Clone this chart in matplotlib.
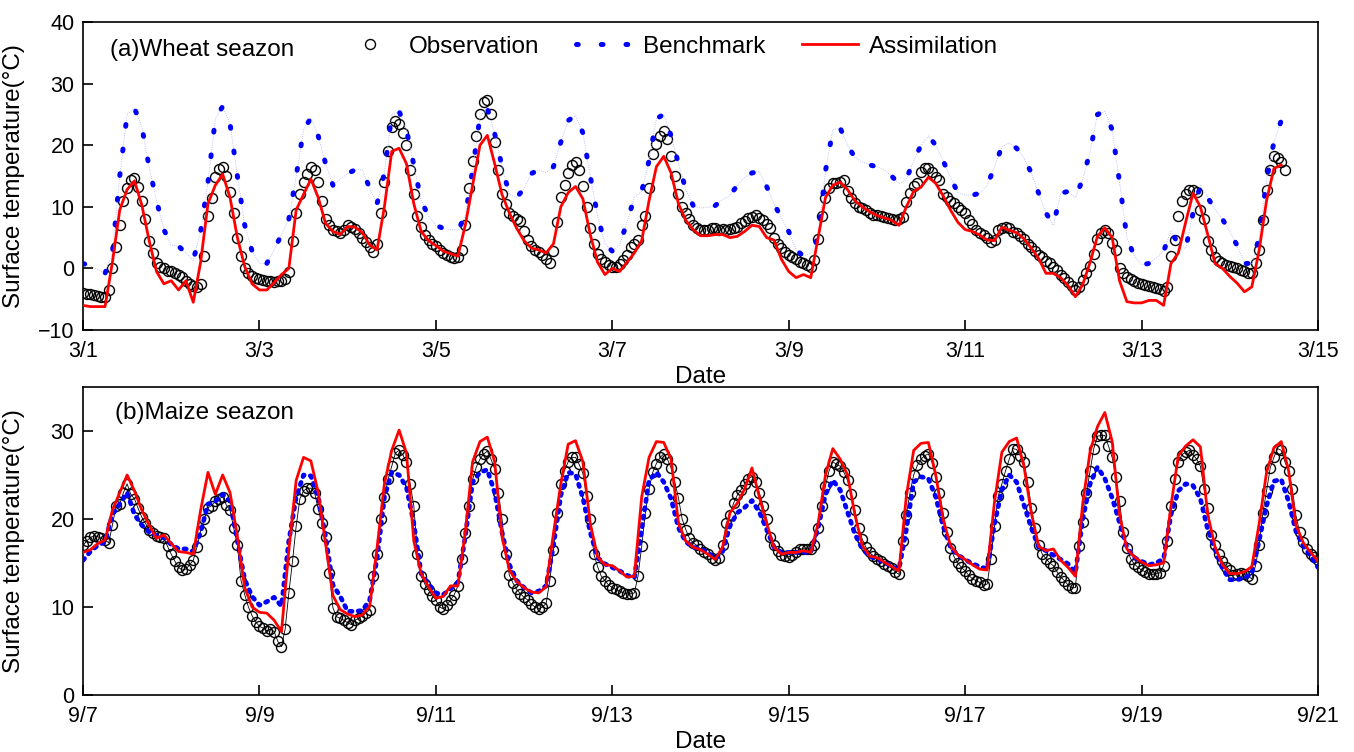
import numpy as np
import matplotlib
matplotlib.use("Agg")
import matplotlib.pyplot as plt
from matplotlib.lines import Line2D

plt.rcParams['font.family'] = ['Liberation Sans', 'DejaVu Sans']

# ---------------- data ----------------
OBS_STEP_H = 1      # observations: hourly samples
MODEL_STEP_H = 2    # model series: 2-hourly samples

wheat_ticklabels = ["3/1", "3/3", "3/5", "3/7", "3/9", "3/11", "3/13", "3/15"]
maize_ticklabels = ["9/7", "9/9", "9/11", "9/13", "9/15", "9/17", "9/19", "9/21"]

wheat_obs = [
    -4, -4.1, -4.2, -4.3, -4.5, -4.6, -4.7, -3.5, 0, 3.5, 7, 11, 13, 14.3, 14.6, 13.2, 11, 8, 4.5, 2.5, 0.8, 0.2, 0, -0.4,
    -0.5, -0.7, -1, -1.4, -2, -2.5, -2.8, -3, -2.5, 2, 8.5, 11.5, 14.8, 16.2, 16.4, 15, 12.4, 9, 5, 2, 0, -0.7, -1.2, -1.6,
    -1.8, -1.9, -2, -2.1, -2.2, -2.1, -2, -1.8, -0.6, 4.5, 9, 12, 14, 15.3, 16.5, 16, 14, 11, 8, 7, 6.3, 6, 5.7, 6.2,
    7, 6.7, 6.4, 5.8, 5, 4.3, 3.4, 2.6, 4, 9, 14, 19, 23, 24, 23.5, 22, 20, 16, 12, 8.5, 6.8, 5.5, 4.6, 4,
    3.7, 3, 2.5, 2.2, 1.9, 1.7, 1.8, 3, 7, 13, 17.5, 21.5, 25, 27, 27.3, 25, 20.5, 16, 12, 10.5, 9, 8.5, 8, 7.7,
    6, 4.6, 3.7, 3, 2.6, 2.2, 1.6, 0.9, 2.8, 7.5, 11.6, 13.5, 15.5, 16.8, 17.3, 16, 13.4, 10, 6.5, 4, 2.4, 1.5, 1.1, 0.5,
    0.3, 0.3, 0.7, 1.4, 2.1, 3.5, 4, 4.6, 7, 8.5, 13, 18.6, 20.2, 21.5, 22.3, 21, 18.2, 15, 12, 10, 9, 8, 7, 6.5,
    6.2, 6.3, 6.2, 6.5, 6.5, 6.3, 6.4, 6.2, 6.4, 6.6, 6.8, 7.3, 7.7, 8.2, 8.3, 8.6, 8.2, 7.8, 7.2, 6.5, 5, 4, 3.3, 2.7,
    2.2, 1.9, 1.5, 1, 0.8, 0.5, 0.3, 1.4, 4.8, 8.5, 11.5, 13, 13.8, 13.8, 14, 14.3, 12.6, 11.5, 10.6, 10, 9.8, 9.4, 9, 8.7,
    8.6, 8.5, 8.4, 8.2, 8, 7.8, 8, 8.4, 10.8, 12.2, 13.3, 13.8, 15.7, 16.3, 16.3, 15.7, 14.9, 14.3, 12, 11.6, 11, 10.6, 10, 9.5,
    9, 7.8, 7.2, 6.2, 5.8, 5.5, 5, 4.3, 4.6, 6.2, 6.5, 6.8, 6.6, 5.9, 5.8, 5.3, 4.8, 4, 3.5, 2.9, 2.2, 1.8, 1.2, 0.8,
    0.2, -0.3, -1.1, -1.5, -2.2, -2.8, -3.5, -3, -1.9, -0.8, 0.4, 2.4, 4.7, 5.7, 6.2, 5.7, 4.2, 3, 0, -0.8, -1.4, -1.8, -2.1, -2.3,
    -2.5, -2.7, -2.8, -3, -3.2, -3.4, -3.7, -3, 2, 4.6, 8.5, 11, 12, 12.7, 12.7, 12.4, 9.5, 8, 4.5, 3, 1.9, 1.2, 0.8, 0.5,
    0.4, 0.3, 0, -0.3, -0.5, -0.7, -0.8, 0.8, 3, 7.8, 12.7, 16, 18.2, 18, 17.3, 16,
]

wheat_bench = [
    0.8, 0.4, -0.2, -0.8, 2.5, 15, 25, 26, 23, 16.4, 11, 6.3,
    3.8, 3.6, 2.5, 1.3, 6, 14, 24.3, 26.3, 23.5, 15, 7, 2.8,
    0.8, 0.8, 3, 5.5, 8, 15, 22.5, 24.4, 21.5, 17, 13.5, 14.5,
    15.4, 16, 16, 13, 10.5, 15.5, 25, 25.5, 22.5, 16.8, 11, 8.5,
    7, 6.5, 6.3, 6.2, 8.5, 16, 24.6, 26, 21.9, 16.5, 12, 11.5,
    13, 15.4, 16, 15.5, 16.5, 20.5, 24, 24.8, 22, 15, 8.5, 4,
    2.8, 3.8, 7.5, 11.5, 12.5, 17.5, 24.3, 25, 21.5, 17, 12.8, 10.2,
    9.8, 9.9, 10.2, 11.2, 11.8, 13.5, 14.8, 15.5, 15.7, 13.3, 10.5, 8.2,
    6, 3, 2, 2.5, 5, 15.8, 22.5, 22.8, 20, 18, 17.3, 16.8,
    16.5, 16, 15, 13.7, 14.5, 17.5, 20, 21.5, 20, 17.5, 14.8, 12.3,
    11.9, 11.9, 12.2, 13.5, 16.5, 19.8, 20.4, 19.5, 18, 15.5, 12.2, 9,
    7, 12.2, 12.5, 11.5, 14.5, 19, 25, 25.5, 22.5, 14, 5, 2,
    0.6, 0.8, 1.7, 2.8, 6, 4, 3.2, 9, 13.5, 11.5, 9.5, 8,
    6, 3.7, 0.8, 0.8, 5, 14.3, 20.5, 24,
]

wheat_assim = [
    -6, -6.2, -6.2, -6.2, 1, 9.5, 12.8, 14.2, 10.3, 4.5, -0.5, -2.5,
    -2, -3.5, -2, -5.5, 1, 10.5, 13.5, 15.3, 11.5, 5, 0.3, -2.5,
    -3.5, -3.5, -2.3, -1, 0, 9.5, 12, 14.5, 11.5, 7.3, 6, 5.5,
    6.8, 6.7, 5.8, 3.8, 3, 10, 19, 19.5, 17, 10.5, 6, 4.5,
    3.7, 2.8, 2.4, 2, 7, 13.5, 20, 21.6, 17, 12, 9, 6.5,
    4.5, 3.3, 3, 2.5, 4, 10, 12.3, 13.3, 11.3, 5.5, 1, -1,
    0, -0.5, 1, 2.5, 4.5, 11, 16.5, 18.2, 15.5, 10.5, 7.8, 6.3,
    5.3, 5.3, 5.5, 5.5, 5, 5.2, 6, 7, 6.8, 5, 4.6, 1.5,
    -0.5, -1.5, -1, -1.5, 5, 11.5, 13.5, 14, 12.8, 11, 10, 9.2,
    8.6, 8.2, 7.8, 7, 10, 12.5, 13.2, 14.8, 13.8, 11.8, 9.5, 7.5,
    6.3, 6, 5.4, 4.6, 4.5, 6.7, 6.2, 5.8, 4.8, 3.3, 1.6, -0.8,
    -0.8, -1.5, -2.8, -4.6, -2.6, 1, 5.2, 6.6, 5, -2, -5.4, -5.6,
    -5.6, -5.2, -5.2, -6, 0.8, 2.5, 7.5, 12.2, 10, 5.5, 0.8, 0,
    -1.3, -2.4, -3.8, -3, 3, 11, 16.2, 16.8,
]

maize_obs = [
    17, 17.5, 17.9, 18.1, 18, 17.8, 17.6, 17.3, 19.3, 21.5, 21.7, 23, 24, 22.8, 22.3, 21.2, 20.2, 19.5, 18.8, 18.4, 18.1, 18, 17.8, 16.9,
    16, 15.2, 14.5, 14.2, 14.3, 14.8, 15.3, 16.8, 18.6, 20, 21.3, 21.5, 22, 22.3, 22.5, 21.6, 21, 19, 17, 13, 11.4, 10, 9, 8.3,
    7.8, 7.6, 7.3, 7.5, 7.2, 6.1, 5.5, 7.5, 11.6, 15.2, 19.2, 22.3, 23.2, 23.5, 23.5, 23, 21.1, 19.6, 18, 13.9, 9.9, 8.9, 8.7, 8.5,
    8.2, 8, 8.5, 8.7, 9, 9.3, 9.7, 13.5, 16, 20, 22.5, 24.5, 26, 27.5, 27.8, 27.3, 26.5, 24, 21.5, 16, 13.5, 12.6, 11.9, 11.3,
    10.8, 10, 9.8, 10.2, 10.8, 11.4, 12.4, 15.4, 18.4, 21.5, 24.5, 25.9, 26.8, 27.4, 27.7, 26.8, 25.7, 23, 20, 16, 13.6, 12.7, 12, 11.5,
    11.1, 10.8, 10.3, 10, 9.8, 10, 10.4, 13, 16.5, 20.7, 24, 25.5, 26.5, 27, 27, 26.2, 25.2, 22.6, 20, 16, 14.6, 13.5, 13, 12.5,
    12.2, 12, 11.8, 11.6, 11.5, 11.5, 11.6, 13.5, 16.9, 20.7, 23.4, 25.3, 26.3, 27, 27.4, 26.8, 25.8, 24.2, 22.4, 20, 18.8, 17.8, 17.3, 17,
    16.6, 16.3, 16, 15.6, 15.3, 15.6, 17, 19.5, 20.5, 21.8, 22.7, 23.3, 24, 24.6, 24.8, 24.2, 23, 21.5, 20, 18, 17.1, 16.4, 15.9, 15.8,
    15.7, 15.9, 16.2, 16.6, 16.6, 16.6, 16.6, 17, 19, 21.5, 23.8, 25.5, 26.5, 26.2, 26, 25.3, 24.4, 22.8, 21, 19, 17.7, 16.8, 16.2, 15.8,
    15.4, 15.2, 14.9, 14.7, 14.4, 14, 13.7, 17.5, 20.5, 23, 25, 26.1, 26.8, 27.2, 27.4, 26.4, 24.8, 23, 20.7, 18.5, 16.7, 15.7, 15, 14.5,
    14.1, 13.6, 13.2, 13, 12.8, 12.5, 12.6, 15.5, 19.2, 22.6, 24, 25.5, 26.8, 28, 27.9, 27.2, 26.5, 24.2, 21.3, 19, 17, 16, 15.5, 15,
    14.7, 14, 13.4, 13, 12.5, 12.2, 12.2, 16.9, 19.7, 23, 25.5, 28, 29.4, 29.5, 29.5, 28.3, 27, 24.8, 22, 18.5, 16.7, 15.5, 14.9, 14.5,
    14.2, 14, 13.8, 13.7, 13.8, 13.9, 14.7, 17.5, 21.5, 24.5, 26.5, 27.3, 27.6, 27.8, 27.3, 26.8, 26, 23.4, 21.3, 18.2, 17, 16, 15.2, 14.6,
    14.2, 13.6, 13.7, 13.9, 13.7, 13.5, 13.2, 14.7, 17, 20.7, 23.2, 25.8, 27, 28, 27.8, 26.5, 25.5, 23.4, 20.4, 18.5, 17.4, 16.6, 16, 15.7,
    15.3,
]

maize_bench = [
    15.3, 16.3, 17, 17.4, 20.5, 21.7, 23, 20.5, 19.3, 18.5, 18.1, 17.9,
    17.1, 16.6, 16.6, 16.3, 18.5, 21.7, 22, 22.8, 22, 17.5, 13.1, 11.2,
    10.2, 10.6, 11.1, 10.1, 17.5, 22.5, 25, 24.9, 22.5, 18, 12.5, 11.2,
    9.5, 9.5, 9.6, 10.8, 15.5, 22.5, 25.3, 25, 23.6, 19.5, 13.8, 12.6,
    11.6, 11.4, 12.1, 12.8, 18, 24.2, 25.3, 25.6, 23, 18.5, 14.8, 13,
    12.2, 11.6, 11.8, 12.4, 17, 22.7, 25.3, 25.1, 22.4, 18.5, 15.6, 14.9,
    14.5, 14.1, 13.6, 13.3, 18.8, 24.4, 25.3, 24.2, 22.3, 19, 17.4, 16.8,
    16.6, 16.2, 15.5, 16.3, 19.2, 20.7, 21.3, 22.1, 20.8, 18.8, 16.8, 16.2,
    16.2, 16.2, 16.2, 16.2, 19, 22.8, 24.4, 23.3, 20.8, 18.3, 16.6, 15.8,
    15.4, 15.1, 14.6, 14.3, 18.8, 24.2, 24.8, 24.6, 22.5, 19.2, 16.8, 15.9,
    15.4, 14.9, 14.6, 14.3, 19.5, 23.3, 25, 24.2, 21.6, 19, 16.8, 16.4,
    15.9, 15.4, 14.9, 13.9, 20, 24, 25.9, 24.6, 22.4, 19.6, 16.8, 15.6,
    15.2, 14.8, 15, 15.5, 20.5, 23.2, 24, 23.8, 22.3, 18.8, 16.5, 14.4,
    13.1, 13.1, 13.3, 13.8, 17.6, 21.5, 24.3, 24.5, 22, 18.6, 16.9, 15.8,
    14.5,
]

maize_assim = [
    16.2, 16.5, 17.2, 17.6, 21, 23, 25, 23.2, 21, 19.3, 17.8, 18.2,
    17.2, 16.3, 16.2, 16, 21, 25.3, 22.8, 25, 23, 18, 12.2, 10,
    9.4, 9.3, 8.5, 7.2, 16.5, 24.4, 27, 26.6, 23, 17.2, 11.3, 9.7,
    9.2, 8.9, 9.1, 10.1, 16.7, 24, 27.8, 30.1, 27.5, 17.5, 13.8, 12.3,
    11, 11.2, 12.4, 12.4, 18.5, 26.5, 28.8, 29.3, 26.5, 18, 14.2, 12.9,
    12.2, 11.7, 11.6, 12.3, 18.4, 24, 28.5, 28.9, 26.5, 19.5, 15.7, 14.8,
    14.7, 14.1, 13.4, 13.5, 22.5, 27, 28.8, 28.7, 26.8, 19.5, 17.5, 16.8,
    16.5, 16, 15.4, 16.8, 20.7, 21.8, 23.4, 25.8, 22.5, 19.5, 16.8, 16,
    16.2, 16.2, 16.4, 16.2, 19.5, 25, 28, 26.8, 25, 20.5, 17, 15.8,
    15.6, 15.1, 14.6, 14.1, 22.6, 27.8, 28.6, 28.7, 25, 20, 17, 15.9,
    15.4, 14.8, 14.3, 14.2, 22, 27.6, 28.8, 29.2, 26, 20.7, 16.9, 16.4,
    16.6, 15.3, 14.5, 13.5, 21.8, 27.7, 30.5, 32.1, 28.8, 20.5, 16.6, 15.7,
    15.1, 14.7, 14.8, 15, 21.5, 27.2, 28.3, 29, 28.2, 20.5, 16.8, 14.8,
    13.8, 13.8, 14, 14.6, 19.5, 25.3, 28.1, 28.8, 25.5, 19.3, 17.3, 16.2,
    15.2,
]

# ---------------- figure ----------------
W, H = 1354, 752
fig = plt.figure(figsize=(W / 100, H / 100), dpi=100)


def px_axes(left, top, right, bottom):
    return fig.add_axes([left / W, 1 - bottom / H, (right - left) / W, (bottom - top) / H])


ax1 = px_axes(83, 22, 1318, 330)
ax2 = px_axes(83, 387, 1318, 695)

OBS_KW = dict(ls='none', marker='o', ms=7.2, mfc='none', mec='black', mew=1.0, zorder=2)
BENCH_TOP_KW = dict(color='#0000ff', lw=3.6, ls=(0, (0.35, 4.6)), dash_capstyle='round')
TICK_FS = 15.5
LAB_FS = 17.5


def hours(vals, step):
    return np.arange(len(vals)) * step


def style_axis(ax, ylim, yticks, xlabels):
    ax.set_xlim(0, 14 * 24)
    ax.set_ylim(*ylim)
    ax.set_xticks(np.arange(len(xlabels)) * 48)
    ax.set_xticklabels(xlabels)
    ax.set_yticks(yticks)
    ax.tick_params(direction='in', length=7, width=1.2, labelsize=TICK_FS)
    ax.tick_params(axis='x', pad=8)
    ax.tick_params(axis='y', pad=6)
    for s in ax.spines.values():
        s.set_linewidth(1.2)
    ax.set_xlabel("Date", fontsize=LAB_FS, labelpad=3)
    ax.set_ylabel("Surface temperature(°C)", fontsize=LAB_FS)


# ---- top panel ----
ax1.plot(hours(wheat_obs, OBS_STEP_H), wheat_obs, **OBS_KW)
tb = hours(wheat_bench, MODEL_STEP_H)
ax1.plot(tb, wheat_bench, color='#a8b0ff', lw=0.6, ls=':', zorder=3)
ax1.plot(tb, wheat_bench, zorder=3, **BENCH_TOP_KW)
ax1.plot(hours(wheat_assim, MODEL_STEP_H), wheat_assim, color='#ff0000', lw=2.0, zorder=4)
style_axis(ax1, (-10, 40), np.arange(-10, 41, 10), wheat_ticklabels)
ax1.text(0.022, 0.91, "(a)Wheat seazon", transform=ax1.transAxes,
         fontsize=LAB_FS, va='center', ha='left')

h_obs = Line2D([], [], **OBS_KW)
h_bench = Line2D([], [], **BENCH_TOP_KW)
h_assim = Line2D([], [], color='#ff0000', lw=2.0)
ax1.legend([h_obs, h_bench, h_assim], ["Observation", "Benchmark", "Assimilation"],
           ncol=3, frameon=False, fontsize=LAB_FS, loc='center left',
           bbox_to_anchor=(0.21, 0.919), borderaxespad=0, borderpad=0,
           handlelength=2.3, handletextpad=0.45, columnspacing=1.5)

# ---- bottom panel ----
tm = hours(maize_obs, OBS_STEP_H)
ax2.plot(tm, maize_obs, color='black', lw=0.6, zorder=2)
ax2.plot(tm, maize_obs, **OBS_KW)
ax2.plot(hours(maize_bench, MODEL_STEP_H), maize_bench, color='#0000ff', lw=3.4,
         ls=(0, (0.5, 1.3)), dash_capstyle='round', zorder=3)
ax2.plot(hours(maize_assim, MODEL_STEP_H), maize_assim, color='#ff0000', lw=2.0, zorder=4)
style_axis(ax2, (0, 35), np.arange(0, 31, 10), maize_ticklabels)
ax2.text(0.026, 0.916, "(b)Maize seazon", transform=ax2.transAxes,
         fontsize=LAB_FS, va='center', ha='left')

for ax in (ax1, ax2):
    ax.yaxis.set_label_coords(-0.047, 0.5)

fig.savefig("out.png", dpi=100)
